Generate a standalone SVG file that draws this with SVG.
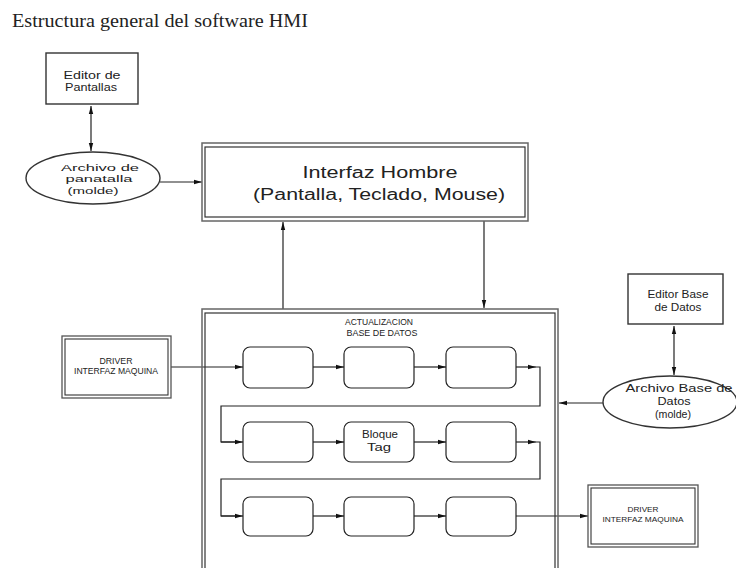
<svg xmlns="http://www.w3.org/2000/svg" width="736" height="568" viewBox="0 0 736 568">
<defs>
<marker id="ah" viewBox="0 0 8 6" refX="8" refY="3" markerWidth="8" markerHeight="6" markerUnits="userSpaceOnUse" orient="auto-start-reverse">
<path d="M0,0.8 L8,3 L0,5.2 z" fill="#111"/>
</marker>
</defs>
<style>
.t{font-family:"Liberation Sans","DejaVu Sans",sans-serif;fill:#222;text-anchor:middle}
.box{fill:#fff;stroke:#333;stroke-width:1.4}
.rb{fill:#fff;stroke:#222;stroke-width:1.2}
.c{fill:none;stroke:#222;stroke-width:1.2}
.a{marker-end:url(#ah)}
.b{marker-start:url(#ah);marker-end:url(#ah)}
</style>
<rect width="736" height="568" fill="#fff"/>
<text x="12" y="27" textLength="296" lengthAdjust="spacingAndGlyphs" style="font-family:'Liberation Serif',serif;font-size:19px;fill:#222">Estructura general del software HMI</text>

<g id="connectors">
<line class="c b" x1="91" y1="106" x2="91" y2="151"/>
<line class="c a" x1="160" y1="182" x2="202" y2="182"/>
<line class="c a" x1="283" y1="309" x2="283" y2="222"/>
<line class="c a" x1="484" y1="221" x2="484" y2="308"/>
<line class="c a" x1="171" y1="367" x2="243" y2="367"/>
<line class="c a" x1="313" y1="367" x2="344" y2="367"/>
<line class="c a" x1="414" y1="367" x2="446" y2="367"/>
<polyline class="c a" points="516,367 536,367"/>
<polyline class="c" points="536,367 540,367 540,406 221,406 221,442 236,442"/>
<line class="c a" x1="221" y1="442" x2="243" y2="442"/>
<line class="c a" x1="313" y1="442" x2="344" y2="442"/>
<line class="c a" x1="414" y1="442" x2="446" y2="442"/>
<polyline class="c a" points="516,442 536,442"/>
<polyline class="c" points="536,442 540,442 540,479 221,479 221,516 236,516"/>
<line class="c a" x1="221" y1="516" x2="243" y2="516"/>
<line class="c a" x1="313" y1="516" x2="344" y2="516"/>
<line class="c a" x1="414" y1="516" x2="446" y2="516"/>
<line class="c a" x1="516" y1="516" x2="588" y2="516"/>
<line class="c b" x1="674" y1="326" x2="674" y2="375"/>
<line class="c a" x1="603" y1="403" x2="559" y2="403"/>
</g>

<g id="editor-pantallas">
<rect class="box" x="46" y="53" width="92" height="51"/>
<text class="t" x="92" y="79" font-size="10" textLength="57" lengthAdjust="spacingAndGlyphs">Editor de</text>
<text class="t" x="91" y="91" font-size="10" textLength="52" lengthAdjust="spacingAndGlyphs">Pantallas</text>
</g>

<g id="archivo-pantalla">
<ellipse class="box" cx="93" cy="178" rx="67" ry="26"/>
<text class="t" x="100" y="170.5" font-size="9.5" textLength="78" lengthAdjust="spacingAndGlyphs">Archivo de</text>
<text class="t" x="99" y="182" font-size="9.5" textLength="67" lengthAdjust="spacingAndGlyphs">panatalla</text>
<text class="t" x="93" y="193.5" font-size="9.5" textLength="51" lengthAdjust="spacingAndGlyphs">(molde)</text>
</g>

<g id="interfaz-hombre">
<rect x="202" y="143" width="326" height="78" fill="#fff" stroke="#666" stroke-width="1.5"/>
<rect x="205" y="147" width="320" height="70" fill="none" stroke="#333" stroke-width="1.2"/>
<text class="t" x="380" y="178" font-size="16" textLength="155" lengthAdjust="spacingAndGlyphs">Interfaz Hombre</text>
<text class="t" x="379" y="200" font-size="16" textLength="252" lengthAdjust="spacingAndGlyphs">(Pantalla, Teclado, Mouse)</text>
</g>

<g id="actualizacion">
<rect x="202" y="309" width="356" height="275" fill="none" stroke="#666" stroke-width="1.5"/>
<rect x="205" y="313" width="350" height="270" fill="none" stroke="#333" stroke-width="1.2"/>
<text class="t" x="379" y="325" font-size="9" textLength="68" lengthAdjust="spacingAndGlyphs">ACTUALIZACION</text>
<text class="t" x="382" y="336" font-size="9" textLength="71" lengthAdjust="spacingAndGlyphs">BASE DE DATOS</text>
</g>

<g id="bloque-1-1"><rect class="rb" x="243" y="347" width="70" height="41" rx="7"/></g>
<g id="bloque-1-2"><rect class="rb" x="344" y="347" width="70" height="41" rx="7"/></g>
<g id="bloque-1-3"><rect class="rb" x="446" y="347" width="70" height="41" rx="7"/></g>
<g id="bloque-2-1"><rect class="rb" x="243" y="422" width="70" height="40" rx="7"/></g>
<g id="bloque-tag"><rect class="rb" x="344" y="422" width="70" height="40" rx="7"/>
<text class="t" x="380" y="438" font-size="11" textLength="36" lengthAdjust="spacingAndGlyphs">Bloque</text>
<text class="t" x="379" y="451" font-size="11" textLength="24" lengthAdjust="spacingAndGlyphs">Tag</text>
</g>
<g id="bloque-2-3"><rect class="rb" x="446" y="422" width="70" height="40" rx="7"/></g>
<g id="bloque-3-1"><rect class="rb" x="243" y="497" width="70" height="39" rx="7"/></g>
<g id="bloque-3-2"><rect class="rb" x="344" y="497" width="70" height="39" rx="7"/></g>
<g id="bloque-3-3"><rect class="rb" x="446" y="497" width="70" height="39" rx="7"/></g>

<g id="driver-left">
<rect x="62" y="336" width="109" height="62" fill="#fff" stroke="#555" stroke-width="1.3"/>
<rect x="65" y="339" width="103" height="56" fill="none" stroke="#333" stroke-width="1.1"/>
<text class="t" x="116" y="364" font-size="8.5" textLength="33" lengthAdjust="spacingAndGlyphs">DRIVER</text>
<text class="t" x="116" y="374" font-size="8.5" textLength="84" lengthAdjust="spacingAndGlyphs">INTERFAZ MAQUINA</text>
</g>

<g id="driver-right">
<rect x="588" y="485" width="110" height="62" fill="#fff" stroke="#555" stroke-width="1.3"/>
<rect x="591" y="488" width="104" height="56" fill="none" stroke="#333" stroke-width="1.1"/>
<text class="t" x="643" y="512" font-size="8" textLength="31" lengthAdjust="spacingAndGlyphs">DRIVER</text>
<text class="t" x="643" y="522" font-size="8" textLength="81" lengthAdjust="spacingAndGlyphs">INTERFAZ MAQUINA</text>
</g>

<g id="editor-base-datos">
<rect class="box" x="628" y="274" width="95" height="50"/>
<text class="t" x="678" y="298" font-size="10.5" textLength="61" lengthAdjust="spacingAndGlyphs">Editor Base</text>
<text class="t" x="678" y="311" font-size="10.5" textLength="47" lengthAdjust="spacingAndGlyphs">de Datos</text>
</g>

<g id="archivo-base-datos">
<ellipse class="box" cx="670" cy="402" rx="67" ry="26"/>
<text class="t" x="679" y="392" font-size="11" textLength="107" lengthAdjust="spacingAndGlyphs">Archivo Base de</text>
<text class="t" x="674" y="405" font-size="11" textLength="33" lengthAdjust="spacingAndGlyphs">Datos</text>
<text class="t" x="673" y="418" font-size="11" textLength="36" lengthAdjust="spacingAndGlyphs">(molde)</text>
</g>
</svg>
